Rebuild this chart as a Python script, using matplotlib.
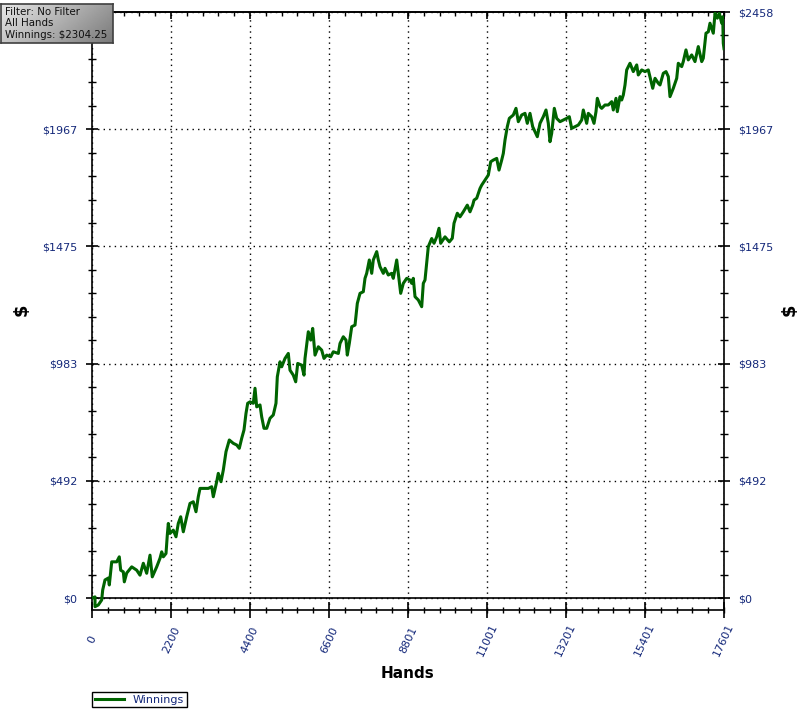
import numpy as np
import matplotlib
matplotlib.use('Agg')
from matplotlib import pyplot as plt
from matplotlib.ticker import FixedLocator, AutoMinorLocator

# winnings curve (hands played, cumulative $)
hands = [0, 84, 84, 175, 270, 298, 362, 454, 482, 549, 688, 760, 799, 872, 900, 966,
         1106, 1245, 1337, 1429, 1523, 1615, 1679, 1802, 1894, 1941, 1986, 2061, 2097,
         2125, 2172, 2264, 2339, 2403, 2470, 2543, 2637, 2729, 2821, 2896, 2960, 3008,
         3239, 3334, 3378, 3473, 3517, 3593, 3657, 3732, 3824, 3935, 4030, 4102, 4169,
         4233, 4289, 4336, 4400, 4492, 4540, 4587, 4679, 4726, 4790, 4865, 4957,
         5049, 5124, 5161, 5236, 5283, 5375, 5467, 5514, 5606, 5673, 5729, 5840, 5904,
         5932, 5979, 6024, 6091, 6146, 6211, 6303, 6397, 6461, 6536, 6648, 6720, 6860,
         6907, 6999, 7074, 7110, 7166, 7233, 7325, 7389, 7464, 7556, 7603, 7650, 7723,
         7790, 7834, 7929, 7974, 8021, 8113, 8160, 8252, 8346, 8391, 8486, 8530, 8597,
         8670, 8764, 8856, 8904, 8948, 8996, 9088, 9182, 9227, 9274, 9321, 9366,
         9461, 9525, 9600, 9664, 9711, 9831, 9951, 10034, 10082, 10174, 10249, 10341,
         10452, 10527, 10602, 10639, 10714, 10806, 10853, 10945, 11037, 11104, 11176,
         11271, 11335, 11410, 11455, 11502, 11566, 11622, 11733, 11808, 11873, 11967,
         12059, 12123, 12198, 12273, 12338, 12402, 12477, 12569, 12644, 12708, 12755,
         12802, 12875, 12941, 13034, 13126, 13220, 13293, 13359, 13452, 13544, 13638,
         13683, 13777, 13822, 13917, 13981, 14036, 14073, 14148,
         14195, 14287, 14379, 14474, 14518, 14593, 14630, 14705, 14752, 14797, 14844,
         14891, 14983, 15075, 15170, 15214, 15309, 15401, 15493, 15560, 15616, 15680,
         15772, 15819, 15911, 15986, 16050, 16097, 16189, 16284, 16328, 16423, 16467,
         16542, 16606, 16701, 16793, 16885, 16980, 17024, 17099, 17164, 17211, 17258,
         17303, 17351, 17415, 17470, 17537, 17565, 17581, 17601]
winnings = [0, 5, -36, -29, -8, 34, 76, 84, 55, 152, 152, 173, 117, 110, 68, 105,
            131, 117, 96, 146, 104, 180, 89, 131, 167, 194, 173, 187, 264,
            313, 271, 285, 257, 313, 341, 278, 341, 397, 404, 362, 425, 460,
            460, 467, 425, 488, 523, 488, 537, 614, 663, 649, 642, 628, 670,
            705, 775, 817, 823, 817, 880, 802, 810, 760, 712, 712, 754,
            768, 817, 928, 991, 970, 1005, 1026, 956, 935, 907, 984, 977, 935,
            1005, 1061, 1117, 1082, 1131, 1019, 1054, 1040, 1005, 1019, 1012, 1033, 1026,
            1068, 1096, 1082, 1019, 1068, 1138, 1145, 1236, 1278, 1285, 1341, 1362, 1418,
            1362, 1418, 1453, 1418, 1390, 1362, 1383, 1355, 1362, 1341, 1418, 1362, 1278,
            1320, 1341, 1334, 1320, 1341, 1264, 1250, 1222, 1320, 1334, 1404, 1474,
            1508, 1488, 1515, 1551, 1488, 1515, 1494, 1509, 1572, 1614, 1599, 1620,
            1648, 1620, 1648, 1669, 1677, 1718, 1732, 1753, 1774, 1830, 1837,
            1844, 1795, 1837, 1865, 1921, 1977, 2012, 2026, 2054, 1998, 2026,
            2033, 1991, 2033, 1977, 1956, 1935, 1991, 2019, 2047, 1991, 1914,
            1949, 2054, 2012, 1998, 2005, 2012, 2019, 1970, 1977, 1984, 2005,
            2047, 1991, 2033, 2019, 1991, 2040, 2096, 2061,
            2054, 2068, 2068, 2082, 2047, 2096, 2040, 2103, 2089, 2110, 2152,
            2215, 2243, 2208, 2236, 2194, 2215, 2208, 2215, 2173, 2138, 2180,
            2159, 2152, 2201, 2208, 2187, 2103, 2138, 2180, 2243, 2229, 2250,
            2299, 2257, 2278, 2250, 2313, 2250, 2264, 2369, 2375, 2411, 2390,
            2369, 2453, 2432, 2453, 2411, 2438, 2327, 2304.25]

x_ticks = [0, 2200, 4400, 6600, 8801, 11001, 13201, 15401, 17601]
y_ticks = [0, 491.6, 983.2, 1474.8, 1966.4, 2458]
y_labels = ['$0', '$492', '$983', '$1475', '$1967', '$2458']
info_lines = ['Filter: No Filter', 'All Hands', 'Winnings: $2304.25']

label_col = '#14287a'

fig = plt.figure(figsize=(8.04, 7.14), dpi=100)
ax = fig.add_axes([92/804, 1 - 610/714, 632/804, 598/714])

ax.plot(hands, winnings, color='#006400', lw=2.2, label='Winnings', zorder=3)
ax.axhline(0, color='black', lw=1.2, zorder=2, clip_on=False)

ax.set_xlim(0, 17601)
ax.set_ylim(-50, 2458)

ax.xaxis.set_major_locator(FixedLocator(x_ticks))
ax.xaxis.set_minor_locator(AutoMinorLocator(5))
ax.yaxis.set_major_locator(FixedLocator(y_ticks))
ax.yaxis.set_minor_locator(AutoMinorLocator(5))
ax.set_xticklabels([str(t) for t in x_ticks], rotation=65, ha='center', va='center',
                   color=label_col, fontsize=8)
ax.set_yticklabels(y_labels, color=label_col, fontsize=8)

ax.tick_params(axis='x', which='major', direction='inout', length=11, width=1.2, pad=16, top=False)
ax.tick_params(axis='x', which='minor', direction='inout', length=5, width=1, top=False)
ax.tick_params(axis='y', which='major', direction='inout', length=9, width=1.2, pad=6,
               right=True, labelright=True, labelcolor=label_col)
ax.tick_params(axis='y', which='minor', direction='inout', length=6, width=1, right=True)

# top edge has inward ticks only
top = ax.secondary_xaxis('top')
top.xaxis.set_major_locator(FixedLocator(x_ticks))
top.xaxis.set_minor_locator(AutoMinorLocator(5))
top.tick_params(which='major', direction='in', length=5, width=1.2, labeltop=False)
top.tick_params(which='minor', direction='in', length=3, width=1)

ax.grid(True, which='major', color='black', linestyle=(0, (1, 3)), lw=1)
for s in ax.spines.values():
    s.set_linewidth(1.2)
top.spines['top'].set_linewidth(1.2)

fig.text(408/804, 1 - 674/714, 'Hands', ha='center', va='center', fontsize=11, fontweight='bold')
fig.text(22/804, 1 - 310/714, '$', ha='center', va='center', rotation=90, fontsize=13, fontweight='bold')
fig.text(790/804, 1 - 310/714, '$', ha='center', va='center', rotation=90, fontsize=13, fontweight='bold')

ax.legend(loc='upper left', bbox_to_anchor=(0, -0.137), borderaxespad=0, fancybox=False,
          edgecolor='black', framealpha=1, fontsize=8, handlelength=2.6, borderpad=0.25,
          labelcolor=label_col)

# filter info box with grey gradient
bx = fig.add_axes([1/804, 1 - 43/714, 112/804, 39/714])
gx, gy = np.meshgrid(np.linspace(0, 1, 60), np.linspace(0, 1, 20))
bx.imshow(0.9 - 0.3 * gx - 0.12 * gy, cmap='gray', vmin=0, vmax=1, aspect='auto',
          extent=[0, 1, 0, 1], origin='upper')
bx.set_xlim(0, 1)
bx.set_ylim(0, 1)
bx.set_xticks([])
bx.set_yticks([])
for s in bx.spines.values():
    s.set_color('#404040')
    s.set_linewidth(1.2)
bx.text(0.04, 0.5, '\n'.join(info_lines), transform=bx.transAxes, fontsize=7.4,
        color='#101010', va='center', ha='left', linespacing=1.15)

fig.savefig('out.png', dpi=100)
